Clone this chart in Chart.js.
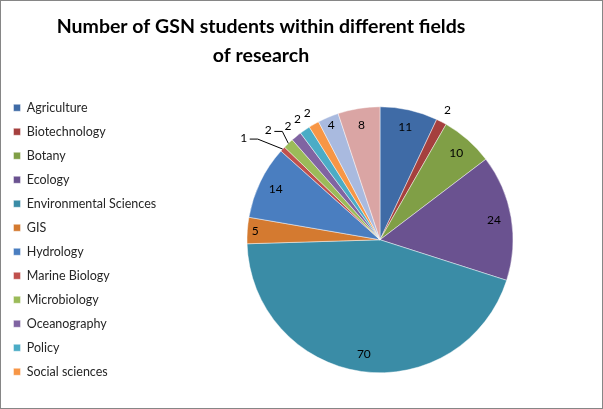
<!DOCTYPE html>
<html>
<head>
<meta charset="utf-8">
<script src="https://cdn.jsdelivr.net/npm/chart.js@4/dist/chart.umd.min.js"></script>
<style>
  html, body { margin: 0; padding: 0; background: #fff; }
  #wrap { position: relative; width: 601px; height: 407px; border: 1px solid #868686; }
</style>
</head>
<body>
<div id="wrap"><canvas id="chart" width="601" height="407"></canvas></div>
<script>
const fields = ['Agriculture', 'Biotechnology', 'Botany', 'Ecology', 'Environmental Sciences', 'GIS',
  'Hydrology', 'Marine Biology', 'Microbiology', 'Oceanography', 'Policy', 'Social sciences',
  'Soil Science', 'Zoology'];
const students = [11, 2, 10, 24, 70, 5, 14, 1, 2, 2, 2, 2, 4, 8];
const sliceColors = ['#3F6BA6', '#A5403E', '#809F46', '#6A5290', '#3A8CA6', '#D47A30',
  '#4A7EC0', '#C0504D', '#9BBB59', '#8064A2', '#4BACC6', '#F79646', '#A9BADF', '#DAA5A4'];
const legendCount = 12; // excel only had room for the first 12

// slices that get a leader line, and how far the label is pushed out
const leaders = { 7: [-39, -11], 8: [-20, -13] };

const sliceLabels = {
  id: 'sliceLabels',
  afterDatasetsDraw(chart) {
    const ctx = chart.ctx;
    const meta = chart.getDatasetMeta(0);
    const total = students.reduce((a, b) => a + b, 0);
    ctx.save();
    ctx.font = '12px Lato';
    ctx.fillStyle = '#000';
    ctx.textAlign = 'center';
    ctx.textBaseline = 'middle';
    meta.data.forEach((arc, i) => {
      const mid = (arc.startAngle + arc.endAngle) / 2;
      const r = arc.outerRadius;
      const cx = arc.x, cy = arc.y;
      const v = students[i];
      const share = v / total;
      if (share > 0.02) {
        // thin slices get their label pushed nearer the rim, like excel does
        const d = r * (share < 0.04 ? 0.94 : 0.87);
        ctx.fillText(v, cx + Math.cos(mid) * d, cy + Math.sin(mid) * d);
      } else if (leaders[i]) {
        const ex = cx + Math.cos(mid) * r, ey = cy + Math.sin(mid) * r;
        const tx = ex + leaders[i][0], ty = ey + leaders[i][1];
        ctx.strokeStyle = '#000';
        ctx.lineWidth = 1;
        ctx.beginPath();
        ctx.moveTo(tx + 6, ty + 1);
        ctx.lineTo(tx + 14, ty + 1);
        ctx.lineTo(ex, ey);
        ctx.stroke();
        ctx.fillText(v, tx, ty);
      } else {
        const d = r * 1.1;
        ctx.fillText(v, cx + Math.cos(mid) * d, cy + Math.sin(mid) * d);
      }
    });
    ctx.restore();
  }
};

// fixed legend width so the pie sits where excel put it,
// and the title nudged left to line up with the original
const layoutTweaks = {
  id: 'layoutTweaks',
  beforeInit(chart) {
    const fit = chart.legend.fit;
    chart.legend.fit = function () {
      fit.bind(chart.legend)();
      this.width = 190;
    };
  },
  afterLayout(chart) {
    chart.titleBlock.left -= 24;
    chart.titleBlock.right -= 24;
  }
};

new Chart(document.getElementById('chart'), {
  type: 'pie',
  data: {
    labels: fields,
    datasets: [{
      data: students,
      backgroundColor: sliceColors,
      borderColor: 'rgba(255,255,255,0.6)',
      borderWidth: 0.75,
      radius: 133
    }]
  },
  options: {
    responsive: false,
    animation: false,
    layout: { padding: { left: 1, right: 34, bottom: 2 } },
    plugins: {
      title: {
        display: true,
        text: ['Number of GSN students within different fields', 'of research'],
        color: '#000',
        font: { family: 'Lato', size: 19.5, weight: 'bold', lineHeight: 1.45 },
        padding: { top: 12, bottom: 4 }
      },
      legend: {
        position: 'left',
        align: 'center',
        fullSize: false,
        labels: {
          boxWidth: 7,
          boxHeight: 7,
          padding: 11.5,
          color: '#262626',
          font: { family: 'Lato', size: 12.5 },
          filter: (item) => item.index < legendCount
        }
      },
      tooltip: { enabled: false }
    }
  },
  plugins: [sliceLabels, layoutTweaks]
});
</script>
</body>
</html>
